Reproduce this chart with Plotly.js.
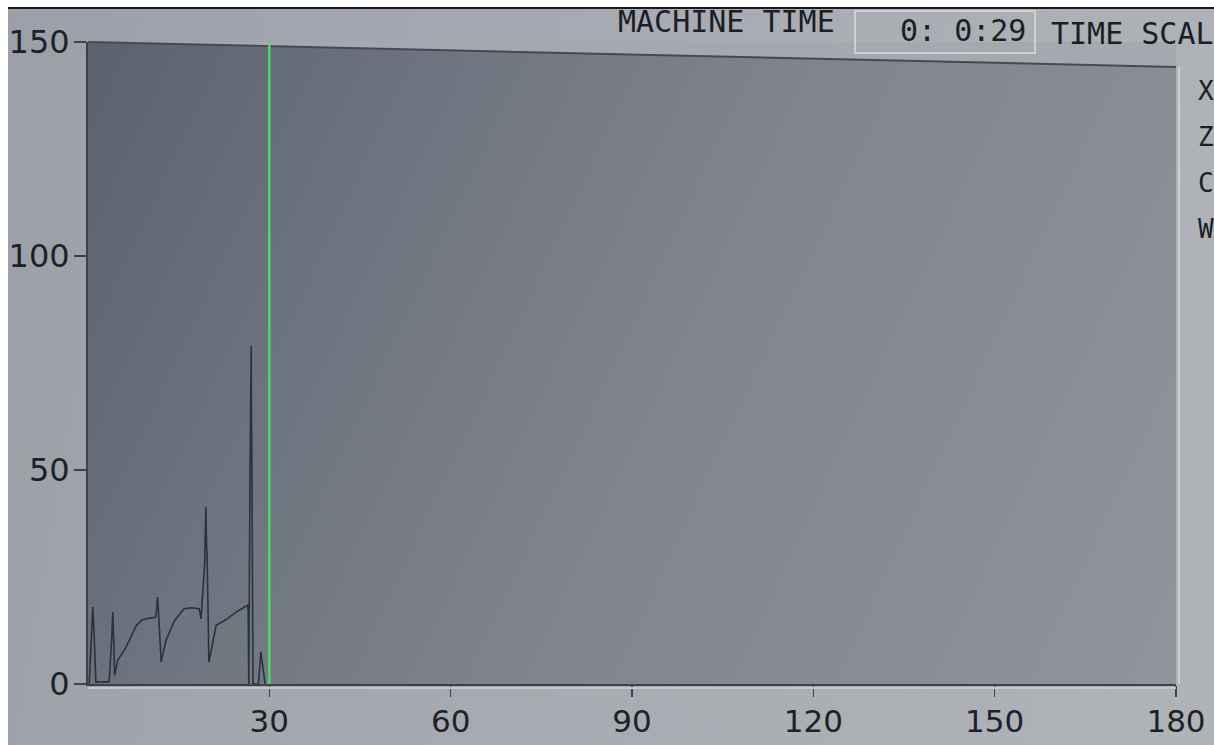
<!DOCTYPE html>
<html>
<head>
<meta charset="utf-8">
<script src="https://cdn.plot.ly/plotly-3.0.1.min.js"></script>
<style>
  html, body { margin: 0; padding: 0; background: #fff; }
  #wrap { position: relative; width: 1214px; height: 745px; background: #fff; overflow: hidden; }
  #paperbg { position: absolute; left: 8px; top: 7px; right: 0; bottom: 0;
    border-top: 2px solid #1a1a1a;
    background: linear-gradient(100deg, #9ba0a7 0%, #a7abb1 45%, #b0b3b8 100%); }
  #plotbg { position: absolute; left: 88px; top: 42px; width: 1088px; height: 642px;
    background: linear-gradient(115deg, #5b616d 0%, #6e747f 25%, #80858e 55%, #90949b 100%); }
  #chart { position: absolute; left: 0; top: 0; width: 1214px; height: 745px; }
</style>
</head>
<body>
<div id="wrap">
  <div id="paperbg"></div>
  <div id="plotbg"></div>
  <div id="chart"></div>
</div>
<script>
// ---- data ----
const timeSec = [0.2, 0.8, 1.0, 1.3, 2.0, 3.5, 3.9, 4.1, 4.3, 4.4, 4.9, 6.3, 8.0, 9.0, 10.2, 11.2, 11.4, 11.5, 11.7, 12.1, 12.9, 14.3, 15.9, 17.2, 18.4, 18.7, 19.3, 19.4, 19.5, 19.6, 19.7, 20.0, 21.2, 22.8, 24.5, 25.9, 26.4, 26.5, 26.6, 26.8, 27.0, 27.05, 27.1, 27.3, 28.2, 28.6, 29.3];
const load    = [0,   18,  12,  0.5, 0.5, 0.5, 10,  16.8, 8,  2,   5.5, 8.6, 13.7, 15,  15.4, 15.6, 18,  20.3, 16,  5.1, 10.2, 14.8, 17.6, 17.8, 17.6, 15.2, 28,  35,  41.4, 33,  30,  5.1, 13.7, 15,  16.8, 18,  18.4, 17, 0,   48,  79,  60,  56,  0,   0,   7.5, 0];
const cursorTime = 30;
const xTicks = [30, 60, 90, 120, 150, 180];
const yTicks = [0, 50, 100, 150];
const headerLabel = "MACHINE TIME";
const clockText = "0: 0:29";
const scaleLabel = "TIME SCAL";
const sideLabels = ["X", "Z", "C", "W"];

// ---- layout helpers (pixel -> paper) ----
const ML = 88, MT = 42, PW = 1088, PH = 642;
const px = p => (p - ML) / PW;
const py = p => (MT + PH - p) / PH;

const textFont = {family: "DejaVu Sans Mono", size: 30, color: "#1b1f25"};
const annotations = [
  {text: headerLabel, x: px(616), y: py(22), xanchor: "left", yanchor: "middle"},
  {text: clockText, x: px(1028), y: py(31), xanchor: "right", yanchor: "middle"},
  {text: scaleLabel, x: px(1049), y: py(33), xanchor: "left", yanchor: "middle"}
].concat(sideLabels.map((s, i) => ({
  text: s, x: px(1196), y: py(91 + i * 46), xanchor: "left", yanchor: "middle",
  font: {family: "DejaVu Sans Mono", size: 26, color: "#1b1f25"}
}))).map(a => Object.assign({xref: "paper", yref: "paper", showarrow: false, font: textFont}, a));

const shapes = [
  // tilted upper edge of the screen frame (photo perspective)
  {type: "path", xref: "paper", yref: "paper",
   path: `M 0 1 L 1 1 L 1 ${py(67)} Z`, fillcolor: "#a5a9af", line: {width: 0}, layer: "above"},
  {type: "line", xref: "paper", yref: "paper", x0: 0, y0: 1, x1: 1, y1: py(67),
   line: {color: "#454a52", width: 2}, layer: "above"},
  // right frame edge (light)
  {type: "line", xref: "paper", yref: "paper", x0: px(1179), y0: 0, x1: px(1179), y1: py(67),
   line: {color: "#cfd2d5", width: 2}, layer: "above"},
  // light edge under the plot
  {type: "line", xref: "paper", yref: "paper", x0: 0, y0: py(688), x1: px(1176), y1: py(688),
   line: {color: "#c3c6ca", width: 2}, layer: "above"},
  // clock box
  {type: "rect", xref: "paper", yref: "paper", x0: px(855), x1: px(1035), y0: py(53), y1: py(11),
   line: {color: "#ced1d4", width: 2}, fillcolor: "rgba(0,0,0,0)", layer: "above"},
  // green cursor
  {type: "line", xref: "x", yref: "paper", x0: cursorTime, x1: cursorTime, y0: 0, y1: 1,
   line: {color: "#4fd86a", width: 2.5}, layer: "above"}
];

const trace = {
  x: timeSec, y: load, type: "scatter", mode: "lines",
  line: {color: "#2c323b", width: 1.6}, hoverinfo: "skip"
};

const layout = {
  width: 1214, height: 745,
  margin: {l: ML, r: 1214 - ML - PW, t: MT, b: 745 - MT - PH},
  paper_bgcolor: "rgba(0,0,0,0)", plot_bgcolor: "rgba(0,0,0,0)",
  showlegend: false,
  xaxis: {range: [0, 180], tickvals: xTicks, ticktext: xTicks.map(String),
    showgrid: false, zeroline: false, showline: true, linecolor: "#3d424a", linewidth: 2,
    ticks: "outside", ticklen: 11, tickwidth: 1.5, tickcolor: "#3d424a", ticklabelstandoff: -2,
    tickfont: {family: "DejaVu Sans", size: 31, color: "#1e2228"}, fixedrange: true},
  yaxis: {range: [0, 150], tickvals: yTicks, ticktext: yTicks.map(String),
    showgrid: false, zeroline: false, showline: true, linecolor: "#3d424a", linewidth: 2,
    ticks: "outside", ticklen: 12, tickwidth: 1.5, tickcolor: "#3d424a", ticklabelstandoff: -2,
    tickfont: {family: "DejaVu Sans", size: 32, color: "#1e2228"}, fixedrange: true},
  annotations: annotations,
  shapes: shapes
};

Plotly.newPlot("chart", [trace], layout, {staticPlot: true, displayModeBar: false});
</script>
</body>
</html>
